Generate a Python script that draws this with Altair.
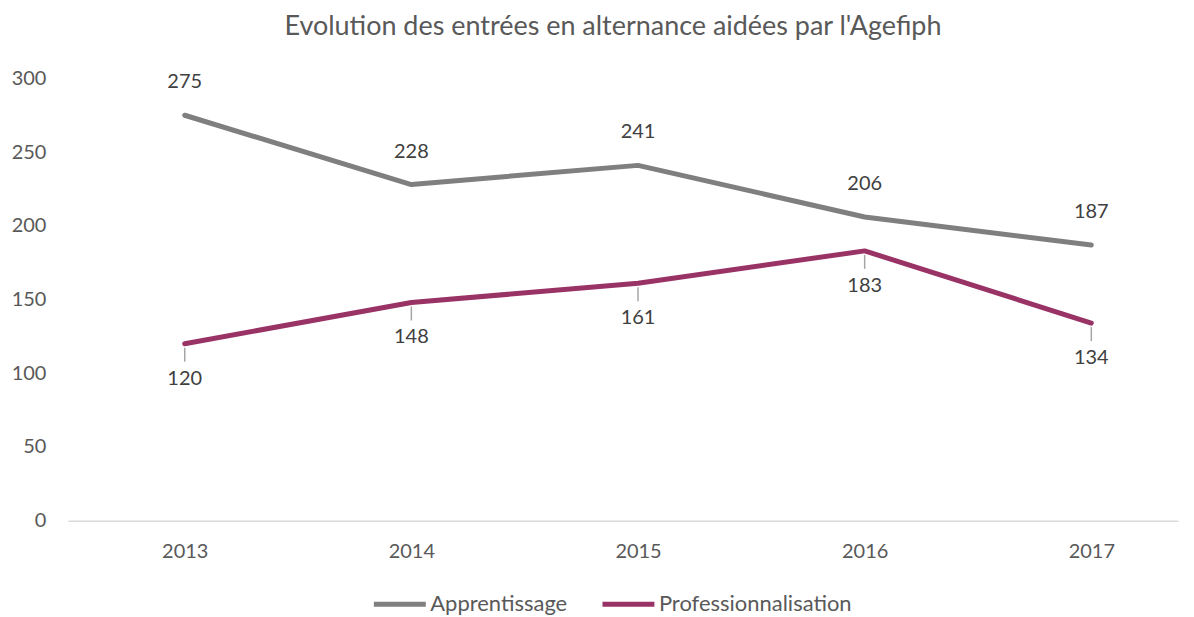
import altair as alt
import pandas as pd

years = ["2013", "2014", "2015", "2016", "2017"]
apprentissage = [275, 228, 241, 206, 187]
professionnalisation = [120, 148, 161, 183, 134]
series_names = ["Apprentissage", "Professionnalisation"]
series_colors = ["#7F7F7F", "#993366"]
y_ticks = [0, 50, 100, 150, 200, 250, 300]

df = pd.DataFrame(
    {
        "year": years * 2,
        "value": apprentissage + professionnalisation,
        "series": [series_names[0]] * len(years) + [series_names[1]] * len(years),
    }
)

FONT = "Lato"

x = alt.X(
    "year:N",
    sort=years,
    scale=alt.Scale(type="point", padding=0.449, align=0.574),
    axis=alt.Axis(
        title=None,
        labelAngle=0,
        labelFont=FONT,
        labelFontSize=20,
        labelColor="#595959",
        labelPadding=21,
        ticks=False,
        domainColor="#D9D9D9",
        domainWidth=1.5,
        grid=False,
    ),
)
y = alt.Y(
    "value:Q",
    scale=alt.Scale(domain=[0, 300], nice=False, zero=True),
    axis=alt.Axis(
        title=None,
        values=y_ticks,
        labelFont=FONT,
        labelFontSize=20,
        labelColor="#595959",
        labelPadding=22,
        ticks=False,
        domain=False,
        grid=False,
    ),
)
color = alt.Color(
    "series:N",
    scale=alt.Scale(domain=series_names, range=series_colors),
    legend=alt.Legend(
        title=None,
        orient="none",
        legendX=304,
        legendY=498,
        direction="horizontal",
        symbolType="stroke",
        symbolSize=2704,
        symbolStrokeWidth=5,
        labelFont=FONT,
        labelFontSize=22,
        labelColor="#595959",
        labelOffset=2,
        labelLimit=0,
        columnPadding=24,
    ),
)

base = alt.Chart(df)

lines = base.mark_line(strokeWidth=5, strokeCap="round", strokeJoin="round").encode(
    x=x, y=y, color=color
)

leaders = (
    base.transform_filter(alt.datum.series == series_names[1])
    .mark_rule(color="#A6A6A6", strokeWidth=1.5, yOffset=4, y2Offset=18, x2Offset=-3)
    .encode(x=x, y=y, y2="value:Q")
)

labels_top = (
    base.transform_filter(alt.datum.series == series_names[0])
    .mark_text(dy=-33, font=FONT, fontSize=20, color="#404040")
    .encode(x=x, y=y, text="value:Q")
)
labels_bottom = (
    base.transform_filter(alt.datum.series == series_names[1])
    .mark_text(dy=35, font=FONT, fontSize=20, color="#404040")
    .encode(x=x, y=y, text="value:Q")
)

chart = (
    alt.layer(lines, leaders, labels_top, labels_bottom)
    .properties(
        width=1112,
        height=443,
        background="white",
        autosize=alt.AutoSizeParams(type="none"),
        padding={"left": 60, "top": 70, "right": 8, "bottom": 94},
        title=alt.TitleParams(
            "Evolution des entrées en alternance aidées par l'Agefiph",
            font=FONT,
            fontSize=27,
            fontWeight="normal",
            color="#595959",
            anchor="middle",
            offset=27,
            dx=-10,
        ),
    )
    .configure_view(stroke=None)
)

chart.save("out.html", embed_options={"renderer": "svg", "actions": False})
